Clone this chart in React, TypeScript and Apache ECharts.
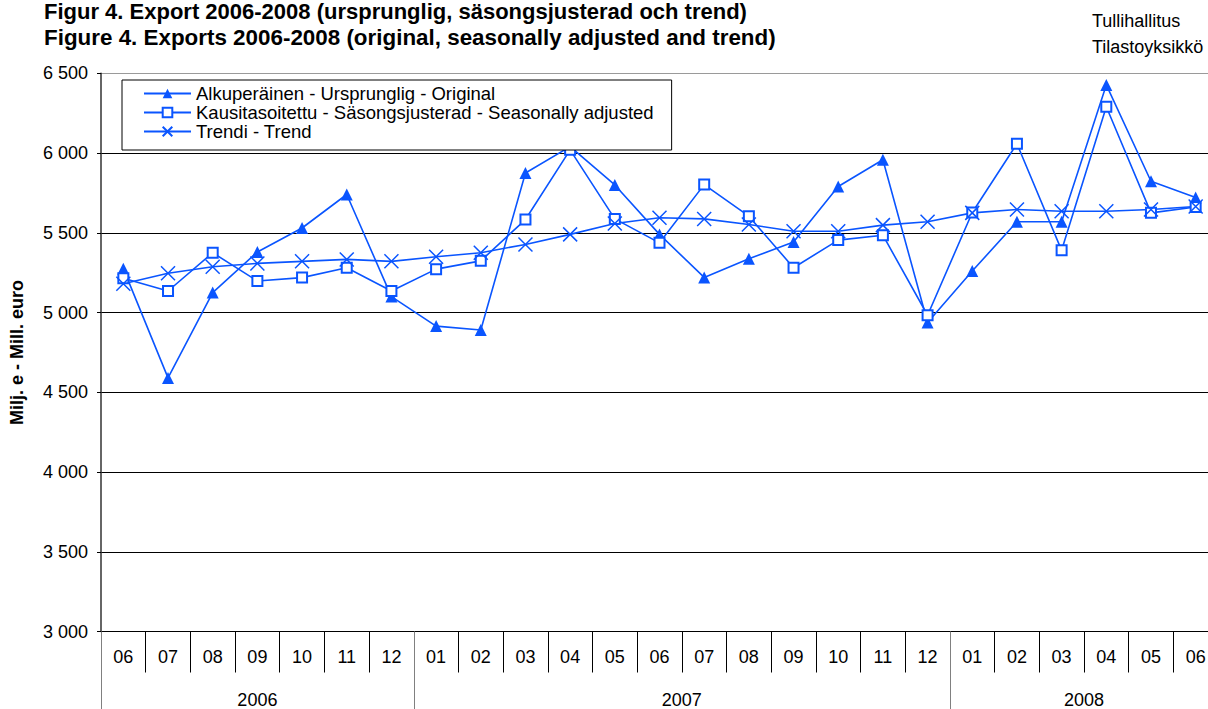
import React, { useEffect, useRef } from 'react';
import * as echarts from 'echarts';

const months = ['06', '07', '08', '09', '10', '11', '12', '01', '02', '03', '04', '05', '06', '07', '08', '09', '10', '11', '12', '01', '02', '03', '04', '05', '06'];
const yearNames = ['2006', '2007', '2008'];
const monthsPerYear = [7, 12, 6];

const original = [5275, 4590, 5125, 5380, 5530, 5740, 5100, 4915, 4890, 5875, 6040, 5800, 5490, 5220, 5337, 5442, 5790, 5958, 4937, 5260, 5569, 5569, 6427, 5823, 5721];
const seasonal = [5215, 5135, 5375, 5198, 5219, 5281, 5135, 5272, 5324, 5583, 6020, 5587, 5437, 5802, 5604, 5281, 5454, 5485, 4983, 5627, 6058, 5390, 6290, 5625, 5662];
const trend = [5180, 5246, 5287, 5308, 5321, 5333, 5321, 5350, 5375, 5427, 5490, 5558, 5594, 5587, 5552, 5510, 5510, 5548, 5569, 5625, 5646, 5635, 5635, 5646, 5665];

const seriesNames = [
  'Alkuperäinen - Ursprunglig - Original',
  'Kausitasoitettu - Säsongsjusterad - Seasonally adjusted',
  'Trendi - Trend',
];
const titleLines = [
  'Figur 4. Export 2006-2008 (ursprunglig, säsongsjusterad och trend)',
  'Figure 4. Exports 2006-2008 (original, seasonally adjusted and trend)',
];
const sourceLines = ['Tullihallitus', 'Tilastoyksikkö'];
const yAxisName = 'Milj. e - Mill. euro';
const yMin = 3000;
const yMax = 6500;
const yStep = 500;

const BLUE = '#0a55ff';
const FONT = '"Liberation Sans", Arial, Helvetica, sans-serif';

// half-month slots for the year axis
const yearSlots: string[] = [];
const yearTickIdx: number[] = [];
{
  const total = monthsPerYear.reduce((a, b) => a + b, 0);
  for (let k = 0; k <= total * 2; k++) yearSlots.push('');
  let start = 0;
  yearTickIdx.push(0);
  monthsPerYear.forEach((n, i) => {
    yearSlots[start * 2 + n] = yearNames[i];
    start += n;
    yearTickIdx.push(start * 2);
  });
}

const fmt = (v: number) => String(v).replace(/\B(?=(\d{3})+(?!\d))/g, ' ');

export default function App() {
  const ref = useRef<HTMLDivElement>(null);
  useEffect(() => {
    if (!ref.current) return;
    const chart = echarts.init(ref.current, null, { renderer: 'svg' });
    const nSplit = (yMax - yMin) / yStep + 1;
    const splitColors: string[] = [];
    for (let i = 0; i < nSplit; i++) splitColors.push(i === nSplit - 1 ? '#9a9a9a' : '#000');

    chart.setOption({
      animation: false,
      backgroundColor: '#fff',
      textStyle: { fontFamily: FONT },
      graphic: [
        {
          type: 'text', left: 44, top: 0,
          style: { text: titleLines[0], font: `bold 22px ${FONT}`, fill: '#000' },
        },
        {
          type: 'text', left: 44, top: 26,
          style: { text: titleLines[1], font: `bold 22.4px ${FONT}`, fill: '#000' },
        },
        {
          type: 'text', left: 1092, top: 12,
          style: { text: sourceLines[0], font: `18px ${FONT}`, fill: '#000' },
        },
        {
          type: 'text', left: 1092, top: 38,
          style: { text: sourceLines[1], font: `18px ${FONT}`, fill: '#000' },
        },
      ],
      legend: {
        left: 122,
        top: 80,
        orient: 'vertical',
        backgroundColor: '#fff',
        borderColor: '#000',
        borderWidth: 1,
        borderRadius: 0,
        padding: [4, 18, 9, 21],
        itemWidth: 47,
        itemHeight: 12,
        itemGap: 0,
        textStyle: { fontSize: 18.5, color: '#000', fontFamily: FONT, lineHeight: 19 },
        data: seriesNames,
      },
      grid: { left: 100.5, right: 0, top: 73.3, bottom: 77.5 },
      xAxis: [
        {
          type: 'category',
          data: months,
          boundaryGap: true,
          axisLine: { show: true, lineStyle: { color: '#000', width: 1 } },
          axisTick: { show: true, interval: 0, length: 41, lineStyle: { color: '#000' } },
          axisLabel: { interval: 0, fontSize: 18, color: '#000', margin: 16, fontFamily: FONT },
          splitLine: { show: false },
        },
        {
          type: 'category',
          data: yearSlots,
          boundaryGap: false,
          position: 'bottom',
          axisLine: { show: false },
          axisTick: {
            show: true,
            interval: (i: number) => yearTickIdx.includes(i),
            length: 80,
            lineStyle: { color: '#808080' },
          },
          axisLabel: {
            interval: (_i: number, v: string) => v !== '',
            fontSize: 18,
            color: '#000',
            margin: 59,
            fontFamily: FONT,
          },
          splitLine: { show: false },
        },
      ],
      yAxis: {
        type: 'value',
        min: yMin,
        max: yMax,
        interval: yStep,
        name: yAxisName,
        nameLocation: 'middle',
        nameRotate: 90,
        nameGap: 75,
        nameTextStyle: { fontSize: 18, fontWeight: 'bold', color: '#000', fontFamily: FONT },
        axisLine: { show: true, lineStyle: { color: '#333', width: 1.5 } },
        axisTick: { show: true, length: 4, lineStyle: { color: '#000' } },
        axisLabel: { formatter: fmt, fontSize: 18, color: '#000', margin: 13, fontFamily: FONT },
        splitLine: { show: true, lineStyle: { color: splitColors, width: 1 } },
      },
      series: [
        {
          name: seriesNames[0],
          type: 'line',
          data: original,
          symbol: 'triangle',
          symbolSize: 12,
          lineStyle: { color: BLUE, width: 1.6 },
          itemStyle: { color: BLUE },
        },
        {
          name: seriesNames[1],
          type: 'line',
          data: seasonal,
          symbol: 'emptyRect',
          symbolSize: 10,
          lineStyle: { color: BLUE, width: 1.6 },
          itemStyle: { color: BLUE, borderColor: BLUE, borderWidth: 1.5 },
        },
        {
          name: seriesNames[2],
          type: 'line',
          data: trend,
          symbol: 'path://M0 0L10 10M10 0L0 10',
          symbolSize: 14,
          lineStyle: { color: BLUE, width: 1.6 },
          itemStyle: { color: BLUE, borderColor: BLUE, borderWidth: 1.5 },
        },
      ],
    });
    return () => chart.dispose();
  }, []);
  return (
    <div style={{ width: 1208, height: 709, position: 'absolute', left: 0, top: 0, overflow: 'hidden' }}>
      <div ref={ref} style={{ width: 1218, height: 709 }} />
    </div>
  );
}
